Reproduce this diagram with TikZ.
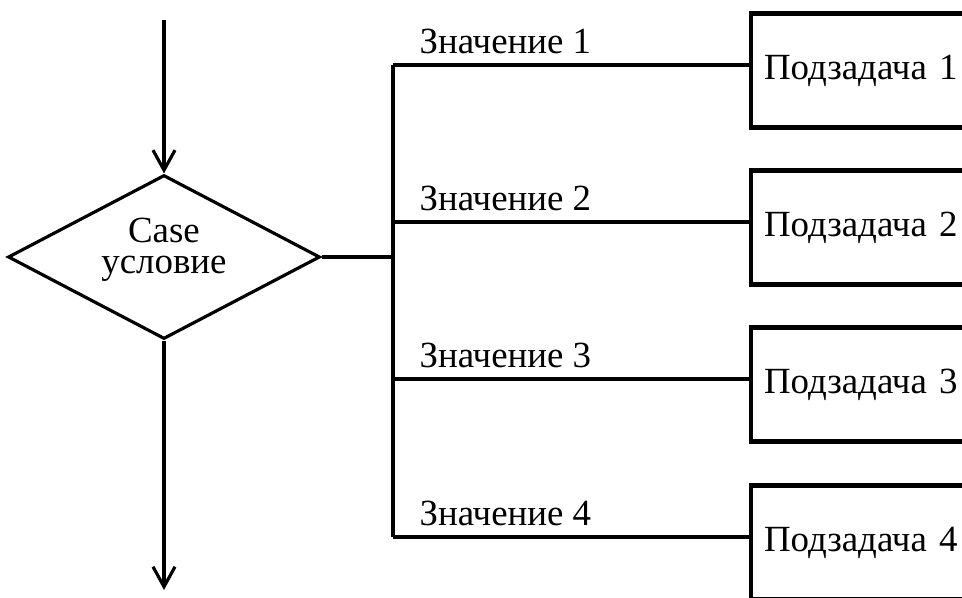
\documentclass[tikz,border=0pt]{standalone}
\usepackage{fontspec}
\setmainfont{Liberation Serif}
\usetikzlibrary{shapes.geometric,arrows.meta,positioning}

\begin{document}
\begin{tikzpicture}[line width=1.8pt, font=\fontsize{21}{17.5}\selectfont,
    >={Straight Barb[length=4mm,width=4.4mm]},
    cond/.style={diamond,draw,minimum width=6.24cm,minimum height=3.28cm,inner sep=0pt},
    subtask/.style={rectangle,draw,line width=2.3pt,minimum width=5cm,minimum height=2.28cm,text width=4.48cm,inner xsep=0.26cm,align=left},
    value/.style={anchor=base west,inner sep=0pt}]
    \clip (0,0) rectangle (19.24,-11.96);
    \node[cond] (case) at (3.28,-5.14) {};
    \node[align=center,inner sep=0pt] (casetext) at ([yshift=0.14cm]case) {Case\\условие};
    \coordinate (start) at (3.28,-0.40);
    \coordinate (finish) at (3.28,-11.80);
    \coordinate (fork) at (7.86,-5.14);
    \draw[->] (start) -- (case.north);
    \draw[->] (case.south) -- (finish);
    \draw (case.east) -- (fork);
    \foreach \i/\y in {1/-1.30,2/-4.44,3/-7.58,4/-10.74}
    {
      \coordinate (val\i) at (7.86,\y);
      \node[subtask,anchor=west] (sub\i) at (14.98,\y-0.11) {Подзадача \i};
      \node[value] (lab\i) at ([xshift=0.5cm,yshift=0.22cm]val\i) {Значение \i};
      \draw (val\i) -- (val\i -| sub\i.west);
    }
    \draw (val1) -- (val4);
\end{tikzpicture}
\end{document}
